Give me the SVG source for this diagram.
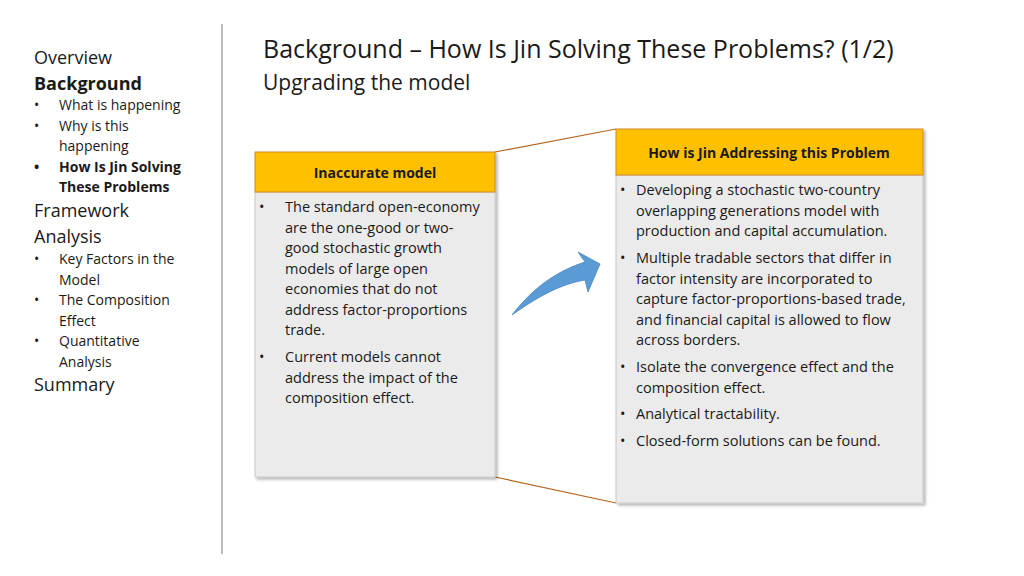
<svg xmlns="http://www.w3.org/2000/svg" width="1024" height="576" viewBox="0 0 1024 576">
<defs>
<style>
text{font-family:"Open Sans","Noto Sans",sans-serif;fill:#1a1a1a}
.nav{font-size:14px}
.navb{font-size:14px;font-weight:bold}
.navl{font-size:18px}
.b{font-size:14.5px}
.h{font-size:14px;font-weight:bold;text-anchor:middle}
.hdr{fill:#ffc000;stroke:#d08a2a;stroke-width:1}
.body{fill:#ebebeb;stroke:#c8c8c8;stroke-width:1}
</style>
<filter id="sh" x="-5%" y="-5%" width="115%" height="115%"><feDropShadow dx="2" dy="2" stdDeviation="1.5" flood-color="#000" flood-opacity="0.3"/></filter>
</defs>
<rect width="1024" height="576" fill="#fff"/>
<line x1="222" y1="24" x2="222" y2="554" stroke="#a6a6a6" stroke-width="1.5"/>
<g id="sidebar">
<text class="navl" x="34" y="64">Overview</text>
<text class="navl" x="34" y="90" font-weight="bold">Background</text>
<text class="nav" x="34" y="110">•</text><text class="nav" x="59" y="110">What is happening</text>
<text class="nav" x="34" y="131">•</text><text class="nav" x="59" y="131">Why is this</text>
<text class="nav" x="59" y="151">happening</text>
<text class="navb" x="34" y="172">•</text><text class="navb" x="59" y="172">How Is Jin Solving</text>
<text class="navb" x="59" y="192">These Problems</text>
<text class="navl" x="34" y="217">Framework</text>
<text class="navl" x="34" y="243">Analysis</text>
<text class="nav" x="34" y="264">•</text><text class="nav" x="59" y="264">Key Factors in the</text>
<text class="nav" x="59" y="285">Model</text>
<text class="nav" x="34" y="305">•</text><text class="nav" x="59" y="305">The Composition</text>
<text class="nav" x="59" y="326">Effect</text>
<text class="nav" x="34" y="346">•</text><text class="nav" x="59" y="346">Quantitative</text>
<text class="nav" x="59" y="367">Analysis</text>
<text class="navl" x="34" y="391">Summary</text>
</g>
<g id="title">
<text x="263" y="58" font-size="25">Background – How Is Jin Solving These Problems? (1/2)</text>
<text x="263" y="90" font-size="21">Upgrading the model</text>
</g>
<g id="connectors" stroke="#b5651d" stroke-width="1.2" fill="none">
<line x1="495" y1="152" x2="616" y2="129"/>
<line x1="495" y1="477" x2="616" y2="503"/>
<path d="M512,315 C535,285 560,270 585,262 L578,252 L600,264 L588,292 L585,280 C562,284 540,295 512,315 Z" fill="#5b9bd5" stroke="#4a86c0" stroke-width="0.8"/>
</g>
<g id="left-box" filter="url(#sh)">
<rect class="body" x="255" y="192" width="240" height="285"/>
<rect class="hdr" x="255" y="152" width="240" height="40"/>
</g>
<g id="left-text">
<text class="h" x="375" y="178">Inaccurate model</text>
<text class="b" x="259" y="212">•</text>
<text class="b" x="285" y="212">The standard open-economy</text>
<text class="b" x="285" y="233">are the one-good or two-</text>
<text class="b" x="285" y="253">good stochastic growth</text>
<text class="b" x="285" y="274">models of large open</text>
<text class="b" x="285" y="294">economies that do not</text>
<text class="b" x="285" y="315">address factor-proportions</text>
<text class="b" x="285" y="335">trade.</text>
<text class="b" x="259" y="362">•</text>
<text class="b" x="285" y="362">Current models cannot</text>
<text class="b" x="285" y="383">address the impact of the</text>
<text class="b" x="285" y="403">composition effect.</text>
</g>
<g id="right-box" filter="url(#sh)">
<rect class="body" x="616" y="175" width="307" height="328"/>
<rect class="hdr" x="616" y="129" width="307" height="46"/>
</g>
<g id="right-text">
<text class="h" x="769" y="158">How is Jin Addressing this Problem</text>
<text class="b" x="620" y="195">•</text>
<text class="b" x="636" y="195">Developing a stochastic two-country</text>
<text class="b" x="636" y="216">overlapping generations model with</text>
<text class="b" x="636" y="236">production and capital accumulation.</text>
<text class="b" x="620" y="263">•</text>
<text class="b" x="636" y="263">Multiple tradable sectors that differ in</text>
<text class="b" x="636" y="284">factor intensity are incorporated to</text>
<text class="b" x="636" y="304">capture factor-proportions-based trade,</text>
<text class="b" x="636" y="325">and financial capital is allowed to flow</text>
<text class="b" x="636" y="345">across borders.</text>
<text class="b" x="620" y="372">•</text>
<text class="b" x="636" y="372">Isolate the convergence effect and the</text>
<text class="b" x="636" y="393">composition effect.</text>
<text class="b" x="620" y="419">•</text>
<text class="b" x="636" y="419">Analytical tractability.</text>
<text class="b" x="620" y="446">•</text>
<text class="b" x="636" y="446">Closed-form solutions can be found.</text>
</g>
</svg>
